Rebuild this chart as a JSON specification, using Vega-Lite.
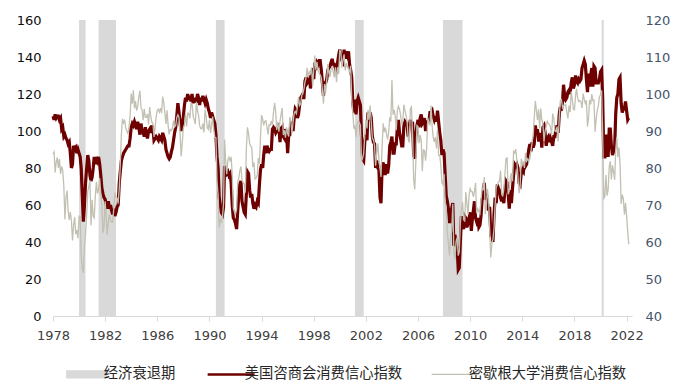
{
"$schema": "https://vega.github.io/schema/vega-lite/v6.json",
"width": 579, "height": 296,
"autosize": {"type": "none"},
"padding": {"left": 53, "top": 20, "right": 63, "bottom": 72},
"background": "white",
"config": {"view": {"stroke": null}, "axis": {"grid": false}},
"datasets": {
"r": [
{"s":"1980-01","e":"1980-07"},
{"s":"1981-07","e":"1982-11"},
{"s":"1990-07","e":"1991-03"},
{"s":"2001-03","e":"2001-11"},
{"s":"2007-12","e":"2009-06"},
{"s":"2020-02","e":"2020-04"}
],
"v": [
{"d":"1978-01","c":108,"m":83.7},{"d":"1978-02","c":106,"m":84.3},{"d":"1978-03","c":109,"m":78.8},{"d":"1978-04","c":107,"m":81.6},{"d":"1978-05","c":108,"m":82.9},{"d":"1978-06","c":108,"m":80.0},{"d":"1978-07","c":106,"m":82.4},{"d":"1978-08","c":107,"m":78.4},{"d":"1978-09","c":101,"m":80.4},{"d":"1978-10","c":102,"m":79.3},{"d":"1978-11","c":97,"m":75.0},{"d":"1978-12","c":98,"m":66.1},
{"d":"1979-01","c":96,"m":72.1},{"d":"1979-02","c":95,"m":73.9},{"d":"1979-03","c":93,"m":68.4},{"d":"1979-04","c":94,"m":66.0},{"d":"1979-05","c":88,"m":68.1},{"d":"1979-06","c":80,"m":65.8},{"d":"1979-07","c":82,"m":60.4},{"d":"1979-08","c":92,"m":64.5},{"d":"1979-09","c":90,"m":66.7},{"d":"1979-10","c":91,"m":62.1},{"d":"1979-11","c":88,"m":63.3},{"d":"1979-12","c":90,"m":61.0},
{"d":"1980-01","c":88,"m":67.0},{"d":"1980-02","c":86,"m":66.9},{"d":"1980-03","c":80,"m":56.5},{"d":"1980-04","c":65,"m":52.7},{"d":"1980-05","c":51,"m":51.7},{"d":"1980-06","c":60,"m":58.7},{"d":"1980-07","c":72,"m":62.3},{"d":"1980-08","c":80,"m":67.3},{"d":"1980-09","c":87,"m":73.7},{"d":"1980-10","c":84,"m":75.0},{"d":"1980-11","c":76,"m":76.7},{"d":"1980-12","c":73,"m":64.5},
{"d":"1981-01","c":75,"m":71.4},{"d":"1981-02","c":80,"m":66.9},{"d":"1981-03","c":86,"m":66.5},{"d":"1981-04","c":82,"m":72.4},{"d":"1981-05","c":86,"m":76.3},{"d":"1981-06","c":84,"m":73.1},{"d":"1981-07","c":86,"m":74.1},{"d":"1981-08","c":82,"m":77.2},{"d":"1981-09","c":76,"m":73.1},{"d":"1981-10","c":69,"m":70.3},{"d":"1981-11","c":66,"m":62.5},{"d":"1981-12","c":64,"m":64.3},
{"d":"1982-01","c":63,"m":71.0},{"d":"1982-02","c":60,"m":66.5},{"d":"1982-03","c":58,"m":62.0},{"d":"1982-04","c":62,"m":65.5},{"d":"1982-05","c":58,"m":67.5},{"d":"1982-06","c":60,"m":65.7},{"d":"1982-07","c":57,"m":65.4},{"d":"1982-08","c":55,"m":65.4},{"d":"1982-09","c":58,"m":69.3},{"d":"1982-10","c":54,"m":73.4},{"d":"1982-11","c":56,"m":72.1},{"d":"1982-12","c":59,"m":71.9},
{"d":"1983-01","c":60,"m":70.4},{"d":"1983-02","c":72,"m":74.6},{"d":"1983-03","c":78,"m":80.8},{"d":"1983-04","c":84,"m":89.1},{"d":"1983-05","c":86,"m":93.3},{"d":"1983-06","c":88,"m":92.2},{"d":"1983-07","c":89,"m":92.8},{"d":"1983-08","c":90,"m":90.9},{"d":"1983-09","c":91,"m":89.9},{"d":"1983-10","c":92,"m":89.3},{"d":"1983-11","c":92,"m":91.1},{"d":"1983-12","c":96,"m":94.2},
{"d":"1984-01","c":102,"m":100.1},{"d":"1984-02","c":104,"m":97.4},{"d":"1984-03","c":103,"m":101.0},{"d":"1984-04","c":105,"m":96.1},{"d":"1984-05","c":103,"m":98.1},{"d":"1984-06","c":101,"m":95.5},{"d":"1984-07","c":105,"m":96.6},{"d":"1984-08","c":102,"m":99.1},{"d":"1984-09","c":98,"m":100.9},{"d":"1984-10","c":104,"m":96.3},{"d":"1984-11","c":100,"m":95.7},{"d":"1984-12","c":99,"m":92.9},
{"d":"1985-01","c":97,"m":96.0},{"d":"1985-02","c":102,"m":93.7},{"d":"1985-03","c":98,"m":93.7},{"d":"1985-04","c":96,"m":94.6},{"d":"1985-05","c":100,"m":91.8},{"d":"1985-06","c":101,"m":96.5},{"d":"1985-07","c":99,"m":94.0},{"d":"1985-08","c":103,"m":92.4},{"d":"1985-09","c":101,"m":92.1},{"d":"1985-10","c":95,"m":88.4},{"d":"1985-11","c":96,"m":90.9},{"d":"1985-12","c":97,"m":93.9},
{"d":"1986-01","c":96,"m":95.6},{"d":"1986-02","c":95,"m":95.9},{"d":"1986-03","c":97,"m":95.1},{"d":"1986-04","c":96,"m":96.2},{"d":"1986-05","c":95,"m":94.8},{"d":"1986-06","c":99,"m":99.3},{"d":"1986-07","c":97,"m":97.7},{"d":"1986-08","c":95,"m":94.9},{"d":"1986-09","c":90,"m":91.9},{"d":"1986-10","c":88,"m":95.6},{"d":"1986-11","c":86,"m":91.4},{"d":"1986-12","c":85,"m":89.1},
{"d":"1987-01","c":86,"m":90.4},{"d":"1987-02","c":89,"m":90.2},{"d":"1987-03","c":91,"m":90.8},{"d":"1987-04","c":95,"m":92.8},{"d":"1987-05","c":99,"m":91.1},{"d":"1987-06","c":102,"m":91.5},{"d":"1987-07","c":108,"m":93.7},{"d":"1987-08","c":115,"m":94.4},{"d":"1987-09","c":110,"m":93.6},{"d":"1987-10","c":104,"m":89.3},{"d":"1987-11","c":100,"m":83.1},{"d":"1987-12","c":103,"m":86.8},
{"d":"1988-01","c":108,"m":90.8},{"d":"1988-02","c":114,"m":91.6},{"d":"1988-03","c":118,"m":94.6},{"d":"1988-04","c":116,"m":91.2},{"d":"1988-05","c":120,"m":94.8},{"d":"1988-06","c":117,"m":94.7},{"d":"1988-07","c":119,"m":93.4},{"d":"1988-08","c":116,"m":97.4},{"d":"1988-09","c":120,"m":97.3},{"d":"1988-10","c":115,"m":94.1},{"d":"1988-11","c":118,"m":93.0},{"d":"1988-12","c":116,"m":91.9},
{"d":"1989-01","c":116,"m":97.9},{"d":"1989-02","c":120,"m":95.4},{"d":"1989-03","c":118,"m":94.3},{"d":"1989-04","c":114,"m":91.5},{"d":"1989-05","c":118,"m":90.7},{"d":"1989-06","c":116,"m":90.6},{"d":"1989-07","c":119,"m":92.0},{"d":"1989-08","c":117,"m":89.6},{"d":"1989-09","c":115,"m":95.8},{"d":"1989-10","c":117,"m":93.9},{"d":"1989-11","c":115,"m":90.9},{"d":"1989-12","c":112,"m":90.5},
{"d":"1990-01","c":110,"m":93.0},{"d":"1990-02","c":107,"m":89.5},{"d":"1990-03","c":110,"m":91.3},{"d":"1990-04","c":108,"m":93.9},{"d":"1990-05","c":106,"m":90.6},{"d":"1990-06","c":104,"m":88.3},{"d":"1990-07","c":98,"m":88.2},{"d":"1990-08","c":86,"m":76.4},{"d":"1990-09","c":80,"m":72.8},{"d":"1990-10","c":64,"m":63.9},{"d":"1990-11","c":60,"m":66.0},{"d":"1990-12","c":56,"m":65.5},
{"d":"1991-01","c":55,"m":66.8},{"d":"1991-02","c":59,"m":70.4},{"d":"1991-03","c":81,"m":87.7},{"d":"1991-04","c":79,"m":81.8},{"d":"1991-05","c":77,"m":78.3},{"d":"1991-06","c":78,"m":82.1},{"d":"1991-07","c":76,"m":82.9},{"d":"1991-08","c":77,"m":82.0},{"d":"1991-09","c":72,"m":83.0},{"d":"1991-10","c":60,"m":78.3},{"d":"1991-11","c":53,"m":69.1},{"d":"1991-12","c":52,"m":68.2},
{"d":"1992-01","c":50,"m":67.5},{"d":"1992-02","c":47,"m":68.8},{"d":"1992-03","c":56,"m":76.0},{"d":"1992-04","c":65,"m":77.2},{"d":"1992-05","c":71,"m":79.2},{"d":"1992-06","c":73,"m":80.4},{"d":"1992-07","c":62,"m":76.6},{"d":"1992-08","c":59,"m":76.1},{"d":"1992-09","c":56,"m":75.6},{"d":"1992-10","c":55,"m":73.3},{"d":"1992-11","c":66,"m":85.3},{"d":"1992-12","c":78,"m":91.0},
{"d":"1993-01","c":77,"m":89.3},{"d":"1993-02","c":68,"m":86.6},{"d":"1993-03","c":64,"m":85.9},{"d":"1993-04","c":66,"m":85.6},{"d":"1993-05","c":61,"m":80.3},{"d":"1993-06","c":58,"m":81.5},{"d":"1993-07","c":60,"m":77.0},{"d":"1993-08","c":59,"m":77.3},{"d":"1993-09","c":62,"m":77.9},{"d":"1993-10","c":61,"m":82.7},{"d":"1993-11","c":71,"m":81.2},{"d":"1993-12","c":79,"m":88.2},
{"d":"1994-01","c":82,"m":94.3},{"d":"1994-02","c":80,"m":93.2},{"d":"1994-03","c":87,"m":91.5},{"d":"1994-04","c":92,"m":92.6},{"d":"1994-05","c":88,"m":92.8},{"d":"1994-06","c":92,"m":91.2},{"d":"1994-07","c":90,"m":89.0},{"d":"1994-08","c":89,"m":91.7},{"d":"1994-09","c":90,"m":91.5},{"d":"1994-10","c":90,"m":92.7},{"d":"1994-11","c":101,"m":91.6},{"d":"1994-12","c":102,"m":95.1},
{"d":"1995-01","c":101,"m":97.6},{"d":"1995-02","c":99,"m":95.1},{"d":"1995-03","c":100,"m":90.3},{"d":"1995-04","c":104,"m":92.5},{"d":"1995-05","c":102,"m":89.8},{"d":"1995-06","c":94,"m":92.7},{"d":"1995-07","c":101,"m":94.4},{"d":"1995-08","c":102,"m":96.2},{"d":"1995-09","c":97,"m":88.9},{"d":"1995-10","c":96,"m":90.2},{"d":"1995-11","c":101,"m":88.2},{"d":"1995-12","c":99,"m":91.0},
{"d":"1996-01","c":88,"m":89.3},{"d":"1996-02","c":98,"m":88.5},{"d":"1996-03","c":98,"m":93.7},{"d":"1996-04","c":104,"m":92.7},{"d":"1996-05","c":103,"m":89.4},{"d":"1996-06","c":100,"m":92.4},{"d":"1996-07","c":107,"m":94.7},{"d":"1996-08","c":112,"m":95.3},{"d":"1996-09","c":111,"m":94.7},{"d":"1996-10","c":107,"m":96.5},{"d":"1996-11","c":109,"m":99.2},{"d":"1996-12","c":114,"m":96.9},
{"d":"1997-01","c":118,"m":97.4},{"d":"1997-02","c":119,"m":99.7},{"d":"1997-03","c":118,"m":100.0},{"d":"1997-04","c":118,"m":101.4},{"d":"1997-05","c":127,"m":103.2},{"d":"1997-06","c":129,"m":104.5},{"d":"1997-07","c":126,"m":107.1},{"d":"1997-08","c":127,"m":104.4},{"d":"1997-09","c":130,"m":106.0},{"d":"1997-10","c":123,"m":105.6},{"d":"1997-11","c":128,"m":107.2},{"d":"1997-12","c":134,"m":102.1},
{"d":"1998-01","c":128,"m":106.6},{"d":"1998-02","c":137,"m":110.4},{"d":"1998-03","c":133,"m":106.5},{"d":"1998-04","c":137,"m":108.7},{"d":"1998-05","c":136,"m":106.5},{"d":"1998-06","c":138,"m":105.6},{"d":"1998-07","c":138,"m":105.2},{"d":"1998-08","c":133,"m":104.4},{"d":"1998-09","c":126,"m":100.9},{"d":"1998-10","c":119,"m":97.4},{"d":"1998-11","c":126,"m":102.7},{"d":"1998-12","c":126,"m":100.5},
{"d":"1999-01","c":128,"m":103.9},{"d":"1999-02","c":133,"m":108.1},{"d":"1999-03","c":134,"m":105.7},{"d":"1999-04","c":135,"m":104.6},{"d":"1999-05","c":137,"m":106.8},{"d":"1999-06","c":139,"m":107.3},{"d":"1999-07","c":136,"m":106.0},{"d":"1999-08","c":136,"m":104.5},{"d":"1999-09","c":134,"m":107.2},{"d":"1999-10","c":131,"m":103.2},{"d":"1999-11","c":137,"m":107.2},{"d":"1999-12","c":141,"m":105.4},
{"d":"2000-01","c":144,"m":112.0},{"d":"2000-02","c":141,"m":111.3},{"d":"2000-03","c":138,"m":107.1},{"d":"2000-04","c":137,"m":109.2},{"d":"2000-05","c":144,"m":110.7},{"d":"2000-06","c":139,"m":106.4},{"d":"2000-07","c":143,"m":108.3},{"d":"2000-08","c":141,"m":107.3},{"d":"2000-09","c":143,"m":106.8},{"d":"2000-10","c":136,"m":105.8},{"d":"2000-11","c":133,"m":107.6},{"d":"2000-12","c":129,"m":98.4},
{"d":"2001-01","c":115,"m":94.7},{"d":"2001-02","c":110,"m":90.6},{"d":"2001-03","c":117,"m":91.5},{"d":"2001-04","c":109,"m":88.4},{"d":"2001-05","c":116,"m":92.0},{"d":"2001-06","c":118,"m":92.6},{"d":"2001-07","c":116,"m":92.4},{"d":"2001-08","c":114,"m":91.5},{"d":"2001-09","c":97,"m":81.8},{"d":"2001-10","c":85,"m":82.7},{"d":"2001-11","c":84,"m":83.9},{"d":"2001-12","c":94,"m":88.8},
{"d":"2002-01","c":98,"m":93.0},{"d":"2002-02","c":95,"m":90.7},{"d":"2002-03","c":110,"m":95.7},{"d":"2002-04","c":108,"m":93.0},{"d":"2002-05","c":110,"m":96.9},{"d":"2002-06","c":107,"m":92.4},{"d":"2002-07","c":97,"m":88.1},{"d":"2002-08","c":94,"m":87.6},{"d":"2002-09","c":93,"m":86.1},{"d":"2002-10","c":80,"m":80.6},{"d":"2002-11","c":84,"m":84.2},{"d":"2002-12","c":80,"m":86.7},
{"d":"2003-01","c":79,"m":82.4},{"d":"2003-02","c":64,"m":79.9},{"d":"2003-03","c":61,"m":77.6},{"d":"2003-04","c":81,"m":86.0},{"d":"2003-05","c":83,"m":92.1},{"d":"2003-06","c":77,"m":89.7},{"d":"2003-07","c":77,"m":90.9},{"d":"2003-08","c":82,"m":89.3},{"d":"2003-09","c":77,"m":87.7},{"d":"2003-10","c":81,"m":89.6},{"d":"2003-11","c":92,"m":93.7},{"d":"2003-12","c":94,"m":92.6},
{"d":"2004-01","c":97,"m":103.8},{"d":"2004-02","c":88,"m":94.4},{"d":"2004-03","c":88,"m":95.8},{"d":"2004-04","c":93,"m":94.2},{"d":"2004-05","c":93,"m":90.2},{"d":"2004-06","c":102,"m":95.6},{"d":"2004-07","c":106,"m":96.7},{"d":"2004-08","c":99,"m":95.9},{"d":"2004-09","c":96,"m":94.2},{"d":"2004-10","c":92,"m":91.7},{"d":"2004-11","c":92,"m":92.8},{"d":"2004-12","c":103,"m":97.1},
{"d":"2005-01","c":105,"m":95.5},{"d":"2005-02","c":104,"m":94.1},{"d":"2005-03","c":103,"m":92.6},{"d":"2005-04","c":97,"m":87.7},{"d":"2005-05","c":103,"m":86.9},{"d":"2005-06","c":106,"m":96.0},{"d":"2005-07","c":103,"m":96.5},{"d":"2005-08","c":105,"m":89.1},{"d":"2005-09","c":87,"m":76.9},{"d":"2005-10","c":85,"m":74.2},{"d":"2005-11","c":98,"m":81.6},{"d":"2005-12","c":103,"m":91.5},
{"d":"2006-01","c":106,"m":91.2},{"d":"2006-02","c":102,"m":86.7},{"d":"2006-03","c":107,"m":88.9},{"d":"2006-04","c":109,"m":87.4},{"d":"2006-05","c":104,"m":79.1},{"d":"2006-06","c":105,"m":84.9},{"d":"2006-07","c":107,"m":84.7},{"d":"2006-08","c":100,"m":82.0},{"d":"2006-09","c":105,"m":85.4},{"d":"2006-10","c":105,"m":93.6},{"d":"2006-11","c":105,"m":92.1},{"d":"2006-12","c":110,"m":91.7},
{"d":"2007-01","c":110,"m":96.9},{"d":"2007-02","c":111,"m":91.3},{"d":"2007-03","c":108,"m":88.4},{"d":"2007-04","c":106,"m":87.1},{"d":"2007-05","c":108,"m":88.3},{"d":"2007-06","c":105,"m":85.3},{"d":"2007-07","c":111,"m":90.4},{"d":"2007-08","c":105,"m":83.4},{"d":"2007-09","c":99,"m":83.4},{"d":"2007-10","c":95,"m":80.9},{"d":"2007-11","c":87,"m":76.1},{"d":"2007-12","c":90,"m":75.5},
{"d":"2008-01","c":88,"m":78.4},{"d":"2008-02","c":76,"m":70.8},{"d":"2008-03","c":65,"m":69.5},{"d":"2008-04","c":62,"m":62.6},{"d":"2008-05","c":58,"m":59.8},{"d":"2008-06","c":51,"m":56.4},{"d":"2008-07","c":51,"m":61.2},{"d":"2008-08","c":58,"m":63.0},{"d":"2008-09","c":61,"m":70.3},{"d":"2008-10","c":38,"m":57.6},{"d":"2008-11","c":44,"m":55.3},{"d":"2008-12","c":38,"m":60.1},
{"d":"2009-01","c":37,"m":61.2},{"d":"2009-02","c":25,"m":56.3},{"d":"2009-03","c":26,"m":57.3},{"d":"2009-04","c":40,"m":65.1},{"d":"2009-05","c":54,"m":68.7},{"d":"2009-06","c":49,"m":70.8},{"d":"2009-07","c":47,"m":66.0},{"d":"2009-08","c":54,"m":65.7},{"d":"2009-09","c":53,"m":73.5},{"d":"2009-10","c":48,"m":70.6},{"d":"2009-11","c":50,"m":67.4},{"d":"2009-12","c":53,"m":72.5},
{"d":"2010-01","c":56,"m":74.4},{"d":"2010-02","c":46,"m":73.6},{"d":"2010-03","c":52,"m":73.6},{"d":"2010-04","c":57,"m":72.2},{"d":"2010-05","c":62,"m":73.6},{"d":"2010-06","c":53,"m":76.0},{"d":"2010-07","c":51,"m":67.8},{"d":"2010-08","c":53,"m":68.9},{"d":"2010-09","c":48,"m":68.2},{"d":"2010-10","c":49,"m":67.7},{"d":"2010-11","c":54,"m":71.6},{"d":"2010-12","c":63,"m":74.5},
{"d":"2011-01","c":64,"m":74.2},{"d":"2011-02","c":72,"m":77.5},{"d":"2011-03","c":63,"m":67.5},{"d":"2011-04","c":66,"m":69.8},{"d":"2011-05","c":61,"m":74.3},{"d":"2011-06","c":57,"m":71.5},{"d":"2011-07","c":59,"m":63.7},{"d":"2011-08","c":45,"m":55.8},{"d":"2011-09","c":46,"m":59.5},{"d":"2011-10","c":40,"m":60.8},{"d":"2011-11","c":55,"m":63.7},{"d":"2011-12","c":64,"m":69.9},
{"d":"2012-01","c":61,"m":75.0},{"d":"2012-02","c":71,"m":75.3},{"d":"2012-03","c":69,"m":76.2},{"d":"2012-04","c":68,"m":76.4},{"d":"2012-05","c":64,"m":79.3},{"d":"2012-06","c":62,"m":73.2},{"d":"2012-07","c":65,"m":72.3},{"d":"2012-08","c":61,"m":74.3},{"d":"2012-09","c":68,"m":78.3},{"d":"2012-10","c":73,"m":82.6},{"d":"2012-11","c":72,"m":82.7},{"d":"2012-12","c":66,"m":72.9},
{"d":"2013-01","c":58,"m":73.8},{"d":"2013-02","c":68,"m":77.6},{"d":"2013-03","c":61,"m":78.6},{"d":"2013-04","c":69,"m":76.4},{"d":"2013-05","c":76,"m":84.5},{"d":"2013-06","c":82,"m":84.1},{"d":"2013-07","c":81,"m":85.1},{"d":"2013-08","c":82,"m":82.1},{"d":"2013-09","c":80,"m":77.5},{"d":"2013-10","c":72,"m":73.2},{"d":"2013-11","c":71,"m":75.1},{"d":"2013-12","c":77,"m":82.5},
{"d":"2014-01","c":79,"m":81.2},{"d":"2014-02","c":78,"m":81.6},{"d":"2014-03","c":83,"m":80.0},{"d":"2014-04","c":81,"m":84.1},{"d":"2014-05","c":82,"m":81.9},{"d":"2014-06","c":86,"m":82.5},{"d":"2014-07","c":90,"m":81.8},{"d":"2014-08","c":93,"m":82.5},{"d":"2014-09","c":89,"m":84.6},{"d":"2014-10","c":94,"m":86.9},{"d":"2014-11","c":91,"m":88.8},{"d":"2014-12","c":93,"m":93.6},
{"d":"2015-01","c":103,"m":98.1},{"d":"2015-02","c":98,"m":95.4},{"d":"2015-03","c":101,"m":93.0},{"d":"2015-04","c":95,"m":95.9},{"d":"2015-05","c":95,"m":90.7},{"d":"2015-06","c":99,"m":96.1},{"d":"2015-07","c":91,"m":93.1},{"d":"2015-08","c":102,"m":91.9},{"d":"2015-09","c":103,"m":87.2},{"d":"2015-10","c":99,"m":90.0},{"d":"2015-11","c":92,"m":91.3},{"d":"2015-12","c":96,"m":92.6},
{"d":"2016-01","c":97,"m":92.0},{"d":"2016-02","c":94,"m":91.7},{"d":"2016-03","c":96,"m":91.0},{"d":"2016-04","c":94,"m":89.0},{"d":"2016-05","c":92,"m":94.7},{"d":"2016-06","c":97,"m":93.5},{"d":"2016-07","c":97,"m":90.0},{"d":"2016-08","c":101,"m":89.8},{"d":"2016-09","c":103,"m":91.2},{"d":"2016-10","c":99,"m":87.2},{"d":"2016-11","c":109,"m":93.8},{"d":"2016-12","c":113,"m":98.2},
{"d":"2017-01","c":111,"m":98.5},{"d":"2017-02","c":116,"m":96.3},{"d":"2017-03","c":125,"m":96.9},{"d":"2017-04","c":119,"m":97.0},{"d":"2017-05","c":117,"m":97.1},{"d":"2017-06","c":118,"m":95.0},{"d":"2017-07","c":121,"m":93.4},{"d":"2017-08","c":122,"m":96.8},{"d":"2017-09","c":120,"m":95.1},{"d":"2017-10","c":126,"m":100.7},{"d":"2017-11","c":129,"m":98.5},{"d":"2017-12","c":123,"m":95.9},
{"d":"2018-01","c":125,"m":95.7},{"d":"2018-02","c":130,"m":99.7},{"d":"2018-03","c":127,"m":101.4},{"d":"2018-04","c":126,"m":98.8},{"d":"2018-05","c":128,"m":98.0},{"d":"2018-06","c":127,"m":98.2},{"d":"2018-07","c":128,"m":97.9},{"d":"2018-08","c":134,"m":96.2},{"d":"2018-09","c":136,"m":100.1},{"d":"2018-10","c":138,"m":98.6},{"d":"2018-11","c":136,"m":97.5},{"d":"2018-12","c":128,"m":98.3},
{"d":"2019-01","c":121,"m":91.2},{"d":"2019-02","c":131,"m":93.8},{"d":"2019-03","c":124,"m":98.4},{"d":"2019-04","c":130,"m":97.2},{"d":"2019-05","c":134,"m":100.0},{"d":"2019-06","c":124,"m":98.2},{"d":"2019-07","c":135,"m":98.4},{"d":"2019-08","c":134,"m":89.8},{"d":"2019-09","c":126,"m":93.2},{"d":"2019-10","c":126,"m":95.5},{"d":"2019-11","c":126,"m":96.8},{"d":"2019-12","c":128,"m":99.3},
{"d":"2020-01","c":132,"m":99.8},{"d":"2020-02","c":133,"m":101.0},{"d":"2020-03","c":118,"m":89.1},{"d":"2020-04","c":86,"m":71.8},{"d":"2020-05","c":86,"m":72.3},{"d":"2020-06","c":98,"m":78.1},{"d":"2020-07","c":92,"m":72.5},{"d":"2020-08","c":86,"m":74.1},{"d":"2020-09","c":101,"m":80.4},{"d":"2020-10","c":101,"m":81.8},{"d":"2020-11","c":92,"m":76.9},{"d":"2020-12","c":87,"m":80.7},
{"d":"2021-01","c":89,"m":79.0},{"d":"2021-02","c":91,"m":76.8},{"d":"2021-03","c":109,"m":84.9},{"d":"2021-04","c":118,"m":88.3},{"d":"2021-05","c":120,"m":82.9},{"d":"2021-06","c":128,"m":85.5},{"d":"2021-07","c":129,"m":81.2},{"d":"2021-08","c":115,"m":70.3},{"d":"2021-09","c":110,"m":72.8},{"d":"2021-10","c":112,"m":71.7},{"d":"2021-11","c":112,"m":67.4},{"d":"2021-12","c":116,"m":70.6},
{"d":"2022-01","c":111,"m":67.2},{"d":"2022-02","c":106,"m":62.8},{"d":"2022-03","c":107,"m":59.4}
]
},
"layer": [
{
"data": {"name": "r"},
"mark": {"type": "rect"},
"encoding": {
"x": {"field": "s", "type": "temporal",
"scale": {"type": "utc", "domain": [{"year": 1978, "month": 1, "date": 1, "utc": true}, {"year": 2022, "month": 6, "date": 1, "utc": true}]},
"axis": {"title": null, "grid": false, "format": "%Y", "labelFlush": false, "labelOverlap": false,
"values": [{"year":1978,"utc":true},{"year":1982,"utc":true},{"year":1986,"utc":true},{"year":1990,"utc":true},{"year":1994,"utc":true},{"year":1998,"utc":true},{"year":2002,"utc":true},{"year":2006,"utc":true},{"year":2010,"utc":true},{"year":2014,"utc":true},{"year":2018,"utc":true},{"year":2022,"utc":true}],
"domainColor": "#d9d9d9", "tickColor": "#d9d9d9", "tickSize": 5, "labelPadding": 8,
"labelFont": "DejaVu Sans", "labelFontSize": 13, "labelColor": "#404040"}},
"x2": {"field": "e"},
"color": {"datum": "经济衰退期", "type": "nominal",
"scale": {"domain": ["经济衰退期", "美国咨商会消费信心指数", "密歇根大学消费信心指数"], "range": ["#d9d9d9", "#6e0000", "#c2c0b2"]},
"legend": {"title": null, "orient": "none", "legendX": 30, "legendY": 347, "direction": "horizontal",
"symbolSize": 2209, "labelFont": "Noto Sans CJK SC", "labelFontSize": 14.3, "labelColor": "#262626",
"labelOffset": 6.5, "columnPadding": 26,
"encode": {"symbols": {"update": {
"shape": {"signal": "datum.value === '经济衰退期' ? 'M-1,-0.15H0.7V0.15H-1Z' : 'M-1,0H1'"},
"fill": {"signal": "datum.value === '经济衰退期' ? '#d9d9d9' : 'transparent'"},
"stroke": {"signal": "datum.value === '经济衰退期' ? 'transparent' : (datum.value === '美国咨商会消费信心指数' ? '#6e0000' : '#c2c0b2')"},
"strokeWidth": {"signal": "datum.value === '美国咨商会消费信心指数' ? 2.5 : 1.2"},
"opacity": {"value": 1}, "fillOpacity": {"value": 1}, "strokeOpacity": {"value": 1}
}}}}}
}
},
{
"data": {"name": "v"},
"mark": {"type": "line", "strokeWidth": 3.2, "interpolate": "linear"},
"encoding": {
"x": {"field": "d", "type": "temporal", "scale": {"type": "utc", "domain": [{"year": 1978, "month": 1, "date": 1, "utc": true}, {"year": 2022, "month": 6, "date": 1, "utc": true}]}},
"y": {"field": "c", "type": "quantitative", "scale": {"domain": [0, 160], "nice": false},
"axis": {"title": null, "grid": false, "domain": false, "ticks": false, "labelPadding": 12, "values": [0,20,40,60,80,100,120,140,160],
"labelFont": "DejaVu Sans", "labelFontSize": 13, "labelColor": "#0d0d0d"}},
"color": {"datum": "美国咨商会消费信心指数", "type": "nominal"}
}
},
{
"data": {"name": "v"},
"mark": {"type": "line", "strokeWidth": 1.3},
"encoding": {
"x": {"field": "d", "type": "temporal", "scale": {"type": "utc", "domain": [{"year": 1978, "month": 1, "date": 1, "utc": true}, {"year": 2022, "month": 6, "date": 1, "utc": true}]}},
"y": {"field": "m", "type": "quantitative", "scale": {"domain": [40, 120], "nice": false},
"axis": {"orient": "right", "title": null, "grid": false, "domain": false, "ticks": false, "labelPadding": 13, "values": [40,50,60,70,80,90,100,110,120],
"labelFont": "DejaVu Sans", "labelFontSize": 13, "labelColor": "#44546a"}},
"color": {"datum": "密歇根大学消费信心指数", "type": "nominal"}
}
}
],
"resolve": {"scale": {"y": "independent"}}
}
